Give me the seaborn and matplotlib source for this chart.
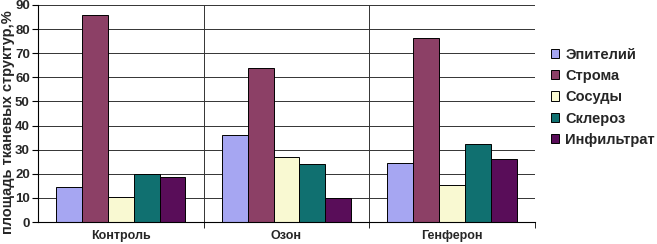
import pandas as pd
import numpy as np
import matplotlib.pyplot as plt
import seaborn as sns

# Данные
groups = ['Контроль', 'Озон', 'Генферон']
structures = ['Эпителий', 'Строма', 'Сосуды', 'Склероз', 'Инфильтрат']
epithelium = [14.6, 36.0, 24.3]
stroma = [85.8, 64.0, 76.2]
vessels = [10.5, 27.0, 15.2]
sclerosis = [20.0, 24.0, 32.3]
infiltrate = [18.5, 9.8, 26.3]
colors = ['#9999FF', '#993366', '#FFFFCC', '#008080', '#660066']

series = [epithelium, stroma, vessels, sclerosis, infiltrate]
rows = []
for name, vals in zip(structures, series):
    for g, v in zip(groups, vals):
        rows.append({'group': g, 'struct': name, 'value': v})
df = pd.DataFrame(rows)

sns.set_style('white')
plt.rcParams['font.family'] = ['Liberation Sans', 'DejaVu Sans']
plt.rcParams['font.weight'] = 'bold'

fig = plt.figure(figsize=(6.57, 2.44), dpi=100)
ax = fig.add_axes([0.058, 0.090, 0.756, 0.890])

sns.barplot(data=df, x='group', y='value', hue='struct', order=groups,
            hue_order=structures, palette=colors, edgecolor='black',
            linewidth=0.7, width=0.78, ax=ax)

ax.set_xlim(-0.5, 2.5)
ax.set_ylim(0, 90)
ax.set_yticks(range(0, 91, 10))
ax.yaxis.grid(True, color='#333333', linewidth=0.7)
ax.set_axisbelow(True)

# вертикальные линии между категориями
ax.set_xticks([0.5, 1.5, 2.5], minor=True)
ax.xaxis.grid(True, which='minor', color='#333333', linewidth=0.7)
ax.tick_params(axis='x', which='major', length=0, labelsize=9, pad=6)
ax.tick_params(axis='x', which='minor', length=4, color='black', direction='out', bottom=True)
ax.tick_params(axis='y', length=4, color='black', direction='out', left=True, labelsize=9.5, pad=2)
for lbl in ax.get_xticklabels() + ax.get_yticklabels():
    lbl.set_fontweight('bold')

for s in ['top', 'right']:
    ax.spines[s].set_visible(False)
for s in ['left', 'bottom']:
    ax.spines[s].set_color('black')
    ax.spines[s].set_linewidth(0.8)

ax.set_xlabel('')
ax.set_ylabel('')
fig.text(8 / 657, 0.5, 'площадь тканевых структур,%', rotation=90,
         ha='center', va='center', fontsize=10.5, fontweight='bold')

handles, labels = ax.get_legend_handles_labels()
ax.legend(handles, labels, loc='upper left', bbox_to_anchor=(1.02, 0.83),
          frameon=False, handlelength=0.6, handleheight=0.6,
          handletextpad=0.4, labelspacing=0.5, borderaxespad=0,
          prop={'weight': 'bold', 'size': 10.5})

plt.savefig('out.png', dpi=100)
